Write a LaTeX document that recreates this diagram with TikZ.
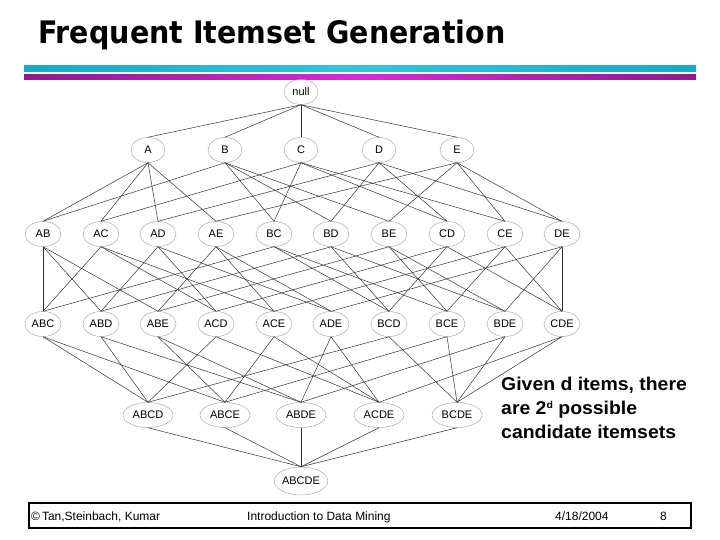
\documentclass[tikz,border=0pt]{standalone}
\usepackage{fontspec}
\setmainfont{Liberation Sans}
\newfontfamily\titlefont[FakeStretch=0.92]{DejaVu Sans}
\newfontfamily\notefont[FakeStretch=1.05]{Liberation Sans}
\usetikzlibrary{shapes.geometric}
\definecolor{barcyan}{HTML}{1AA8C8}
\definecolor{barcyanlt}{HTML}{34C2DC}
\definecolor{barpurple}{HTML}{8E1A8E}
\definecolor{barmagenta}{HTML}{D62AD6}
\definecolor{ringgray}{HTML}{AAAAAA}
\definecolor{edgegray}{HTML}{333333}

\begin{document}
\begin{tikzpicture}[x=1pt,y=-1pt,
  item/.style={ellipse,draw=ringgray,line width=0.5pt,inner sep=0pt,font=\fontsize{11}{13}\selectfont},
  lvlone/.style={item,minimum width=34,minimum height=25},
  lvltwo/.style={item,minimum width=36,minimum height=25},
  lvlfour/.style={item,minimum width=50,minimum height=25},
  lvlfive/.style={item,minimum width=52,minimum height=28},
  link/.style={draw=edgegray,line width=0.5pt}]
\useasboundingbox (0,0) rectangle (720,540);
\node[anchor=base west,inner sep=0pt,font=\titlefont\bfseries\fontsize{31}{36}\selectfont] (title) at (38,44) {Frequent Itemset Generation};
\shade[left color=barcyan,right color=barcyan,middle color=barcyanlt] (24,66) rectangle (696,72);
\shade[left color=barpurple,right color=barpurple,middle color=barmagenta] (24,74.5) rectangle (696,79.5);

\node[lvlone] (null) at (301,92) {null};
\foreach \n/\x in {A/148,B/225,C/301,D/379,E/457}
  \node[lvlone] (\n) at (\x,150) {\n};
\foreach \n/\x in {AB/43,AC/101,AD/158,AE/216,BC/274,BD/331,BE/389,CD/447,CE/505,DE/562}
  \node[lvltwo] (\n) at (\x,234) {\n};
\foreach \n/\x in {ABC/43,ABD/101,ABE/158,ACD/216,ACE/274,ADE/331,BCD/389,BCE/447,BDE/505,CDE/562}
  \node[lvltwo] (\n) at (\x,324) {\n};
\foreach \n/\x in {ABCD/148,ABCE/225,ABDE/301,ACDE/379,BCDE/457}
  \node[lvlfour] (\n) at (\x,415) {\n};
\node[lvlfive] (ABCDE) at (301,481) {ABCDE};

\foreach \c/\ps in {A/{null},B/{null},C/{null},D/{null},E/{null},
  AB/{A,B},AC/{A,C},AD/{A,D},AE/{A,E},BC/{B,C},BD/{B,D},BE/{B,E},CD/{C,D},CE/{C,E},DE/{D,E},
  ABC/{AB,AC,BC},ABD/{AB,AD,BD},ABE/{AB,AE,BE},ACD/{AC,AD,CD},ACE/{AC,AE,CE},
  ADE/{AD,AE,DE},BCD/{BC,BD,CD},BCE/{BC,BE,CE},BDE/{BD,BE,DE},CDE/{CD,CE,DE},
  ABCD/{ABC,ABD,ACD,BCD},ABCE/{ABC,ABE,ACE,BCE},ABDE/{ABD,ABE,ADE,BDE},
  ACDE/{ACD,ACE,ADE,CDE},BCDE/{BCD,BCE,BDE,CDE},
  ABCDE/{ABCD,ABCE,ABDE,ACDE,BCDE}}
  \foreach \p in \ps
    \draw[link] (\p.south) -- (\c.north);

\node[anchor=base west,inner sep=0pt,align=left,font=\notefont\bfseries\fontsize{18.5}{24}\selectfont] (note) at (501,438)
  {Given d items, there\\are 2{\fontsize{10}{12}\selectfont\raisebox{6pt}{d}} possible\\candidate itemsets};

\draw[line width=2pt] (29,503) rectangle (691,528);
\node[anchor=base west,inner sep=0pt,font=\fontsize{12}{14}\selectfont] (authors) at (31,520) {\textcopyright\,Tan,Steinbach, Kumar};
\node[anchor=base west,inner sep=0pt,font=\fontsize{12}{14}\selectfont] (course) at (247,520) {Introduction to Data Mining};
\node[anchor=base west,inner sep=0pt,font=\fontsize{12}{14}\selectfont] (date) at (555,520) {4/18/2004};
\node[anchor=base west,inner sep=0pt,font=\fontsize{12}{14}\selectfont] (page) at (660,520) {8};
\end{tikzpicture}
\end{document}
